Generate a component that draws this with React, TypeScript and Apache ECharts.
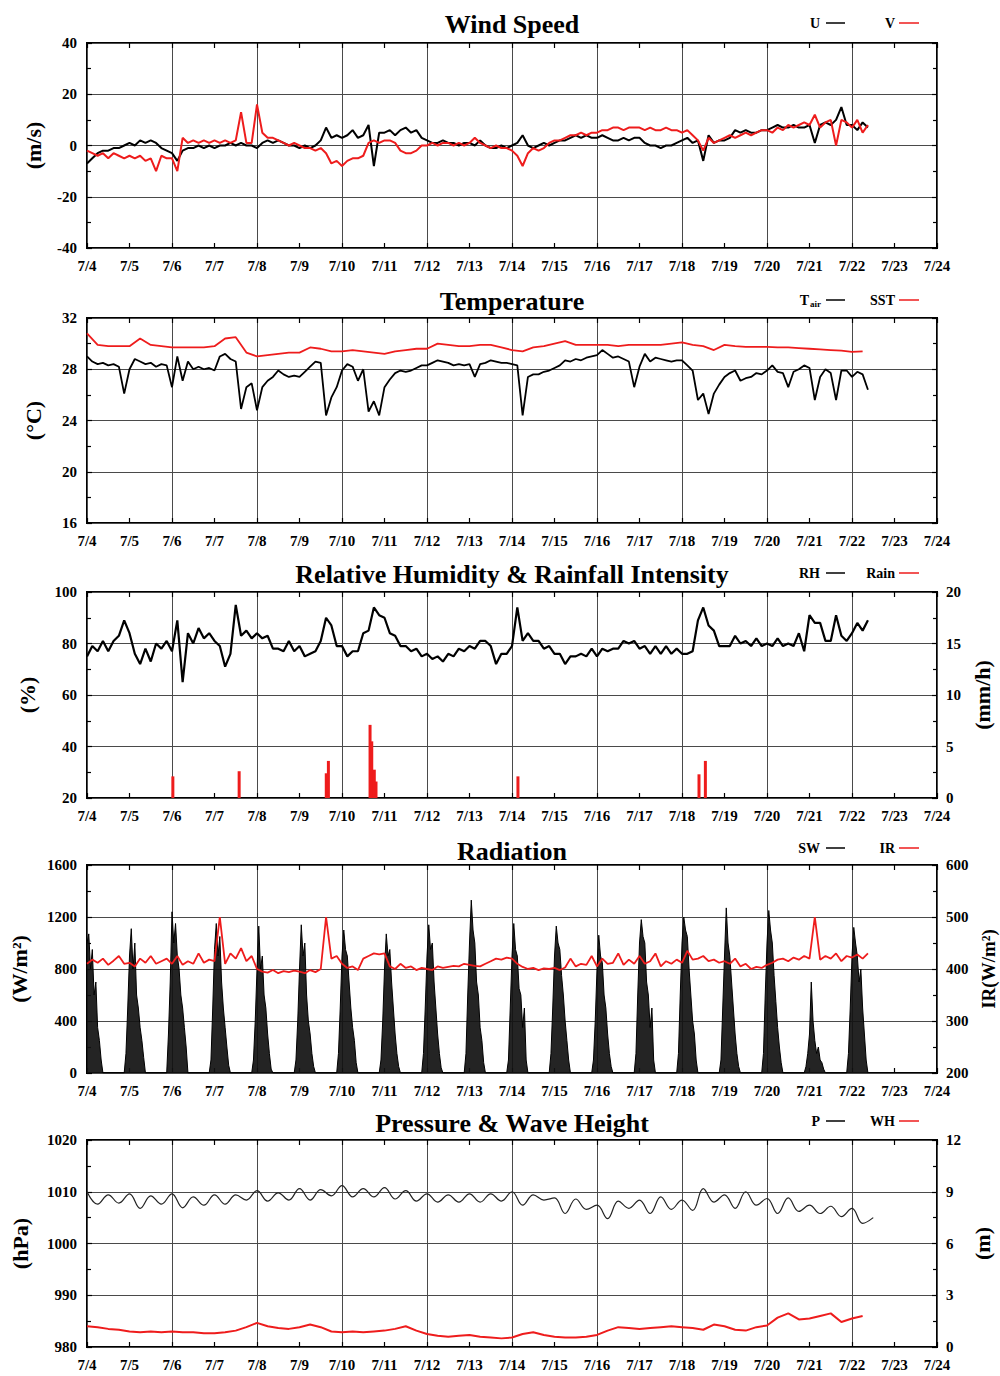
import React, { useEffect, useRef } from "react";
import * as echarts from "echarts";

// ---------- tick labels ----------
const X_TICK_LABELS = ["7/4","7/5","7/6","7/7","7/8","7/9","7/10","7/11","7/12","7/13","7/14","7/15","7/16","7/17","7/18","7/19","7/20","7/21","7/22","7/23","7/24"];

// ---------- data (3-hourly from 7/4 00:00) ----------
const U_WIND = [
  -7, -5, -3, -2, -2, -1, -1, 0,
  1, 0, 2, 1, 2, 1, -1, -2,
  -3, -6, -2, -1, -1, 0, -1, 0,
  -1, 0, 0, 1, 0, 1, 0, 0,
  -1, 1, 2, 1, 2, 1, 0, 0,
  -1, 0, -1, 0, 2, 7, 3, 4,
  3, 4, 6, 3, 4, 8, -8, 5,
  5, 6, 4, 6, 7, 5, 6, 3,
  2, 1, 1, 2, 1, 1, 0, 1,
  1, 0, 2, 0, -1, -1, 0, -1,
  0, 1, 4, 0, -1, 0, 1, 0,
  1, 2, 2, 3, 4, 3, 4, 3,
  3, 4, 3, 2, 2, 3, 2, 3,
  3, 1, 0, 0, -1, 0, 0, 1,
  2, 3, 1, 2, -6, 4, 1, 2,
  2, 3, 6, 5, 6, 5, 5, 6,
  6, 7, 8, 7, 7, 8, 7, 7,
  8, 1, 8, 9, 8, 10, 15, 8,
  8, 6, 9, 7,
];
const V_WIND = [
  -2, -3, -4, -3, -5, -3, -4, -5,
  -4, -5, -4, -6, -5, -10, -4, -5,
  -5, -10, 3, 1, 2, 1, 2, 1,
  2, 1, 2, 1, 2, 13, 1, 1,
  16, 5, 3, 3, 2, 1, 0, 1,
  0, -1, -1, -2, -1, -3, -7, -6,
  -8, -6, -5, -5, -4, 1, 2, 1,
  2, 2, 1, -2, -3, -3, -2, 0,
  0, 1, 0, 1, 1, 0, 1, 0,
  1, 3, 1, 0, -1, 0, -1, -1,
  -2, -4, -8, -3, -1, -2, -1, 1,
  2, 2, 3, 4, 4, 5, 4, 5,
  5, 6, 6, 7, 7, 6, 7, 7,
  7, 6, 7, 6, 6, 7, 6, 6,
  5, 6, 4, 2, -2, 3, 1, 2,
  3, 4, 3, 4, 5, 4, 5, 6,
  6, 5, 7, 6, 8, 7, 8, 9,
  8, 12, 7, 9, 10, 0, 10, 9,
  7, 10, 5, 8,
];
const T_AIR = [
  29.0, 28.6, 28.4, 28.5, 28.3, 28.4, 28.2, 26.1,
  28.0, 28.8, 28.6, 28.4, 28.5, 28.2, 28.4, 28.3,
  26.6, 29.0, 27.1, 28.6, 28.0, 28.2, 28.0, 28.1,
  27.9, 29.0, 29.2, 28.8, 28.6, 24.9, 26.6, 26.9,
  24.8, 26.6, 27.1, 27.4, 27.9, 27.6, 27.4, 27.5,
  27.4, 27.8, 28.2, 28.6, 28.5, 24.4, 25.8, 26.6,
  27.9, 28.4, 28.2, 27.1, 28.0, 24.7, 25.5, 24.4,
  26.6, 27.2, 27.7, 27.9, 27.8, 27.9, 28.1, 28.3,
  28.3, 28.5, 28.7, 28.6, 28.5, 28.3, 28.4, 28.3,
  28.4, 27.4, 28.4, 28.5, 28.7, 28.6, 28.5, 28.5,
  28.4, 28.3, 24.4, 27.4, 27.6, 27.6, 27.8, 27.9,
  28.1, 28.3, 28.7, 28.6, 28.8, 28.7, 28.9, 29.0,
  29.1, 29.5, 29.2, 28.9, 29.0, 28.8, 28.6, 26.6,
  28.2, 29.2, 28.6, 28.9, 28.8, 28.7, 28.6, 28.7,
  28.7, 28.3, 27.9, 25.6, 26.1, 24.5, 26.1, 26.8,
  27.4, 27.7, 27.9, 27.1, 27.3, 27.4, 27.7, 27.6,
  27.9, 28.3, 27.8, 27.7, 26.6, 27.8, 28.0, 28.3,
  28.1, 25.6, 27.4, 28.0, 27.7, 25.6, 27.9, 27.9,
  27.4, 27.8, 27.6, 26.4,
];
const RH = [
  75, 79, 77, 81, 77, 81, 83, 89,
  84, 76, 72, 78, 73, 80, 78, 81,
  77, 89, 65, 84, 80, 86, 82, 84,
  81, 79, 71, 76, 95, 83, 85, 82,
  84, 82, 83, 78, 78, 77, 81, 77,
  79, 75, 76, 77, 81, 90, 87, 79,
  79, 75, 77, 77, 84, 85, 94, 91,
  90, 84, 83, 79, 79, 77, 78, 75,
  76, 74, 75, 73, 76, 75, 78, 77,
  79, 78, 81, 81, 79, 72, 76, 76,
  79, 94, 81, 84, 81, 81, 78, 79,
  76, 76, 72, 75, 75, 76, 75, 78,
  75, 78, 77, 78, 78, 81, 80, 81,
  78, 79, 76, 79, 76, 79, 76, 78,
  76, 76, 77, 89, 94, 87, 85, 79,
  79, 79, 83, 80, 81, 79, 82, 79,
  80, 79, 82, 79, 80, 79, 84, 77,
  91, 88, 88, 81, 81, 91, 83, 81,
  84, 88, 85, 89,
];
const IR = [
  410, 418, 412, 420, 408, 416, 425, 410,
  412, 405, 420, 412, 425, 410, 415, 420,
  410, 425, 408, 415, 410, 430, 412, 418,
  415, 500, 410, 430, 420, 440, 415, 425,
  400, 395, 393, 398, 392, 396, 394, 397,
  395, 392, 398, 394, 400, 500, 420, 425,
  410, 402, 405, 398, 420, 425, 430, 428,
  430, 405, 400, 410, 402, 405, 398, 402,
  400, 398, 405, 402, 404, 406, 405, 410,
  408, 406, 405, 410, 415, 420, 418, 422,
  420, 410, 404, 400, 402, 398, 401, 400,
  402, 398, 403, 420, 405, 410, 408, 425,
  405, 420, 410, 412, 430, 408, 418, 410,
  425, 410, 415, 430, 405, 415, 410, 418,
  412, 435, 418, 420, 425, 415, 418, 412,
  415, 410, 420, 405, 410, 400, 404, 402,
  408, 412, 418, 420, 415, 422, 418, 425,
  420, 500, 418, 425, 420, 430, 415, 425,
  422, 428, 420, 430,
];

// ---------- data (6-hourly from 7/4 00:00) ----------
const SST = [
  30.8, 29.9, 29.8, 29.8,
  29.8, 30.4, 29.9, 29.8,
  29.7, 29.7, 29.7, 29.7,
  29.8, 30.4, 30.5, 29.3,
  29.0, 29.1, 29.2, 29.3,
  29.3, 29.7, 29.6, 29.4,
  29.4, 29.5, 29.4, 29.3,
  29.2, 29.4, 29.5, 29.6,
  29.6, 30.0, 29.9, 29.8,
  29.8, 29.9, 29.9, 29.7,
  29.5, 29.4, 29.7, 29.8,
  30.0, 30.2, 29.9, 29.9,
  29.9, 29.9, 29.8, 29.9,
  29.9, 29.9, 29.9, 30.0,
  30.1, 29.9, 29.8, 29.5,
  29.9, 29.8, 29.75, 29.75,
  29.75, 29.7, 29.7, 29.65,
  29.6, 29.55, 29.5, 29.45,
  29.35, 29.4,
];
const PRESSURE = [
  1010.0, 1007.6, 1009.4, 1007.8,
  1009.6, 1006.8, 1009.2, 1007.6,
  1009.6, 1006.9, 1009.0, 1007.4,
  1009.4, 1007.6, 1009.4, 1008.4,
  1010.2, 1008.2, 1009.8, 1008.4,
  1010.6, 1008.4, 1010.4, 1009.2,
  1011.2, 1009.0, 1010.6, 1009.0,
  1010.8, 1008.6, 1010.2, 1008.2,
  1009.6, 1008.0, 1009.4, 1008.0,
  1009.6, 1008.0, 1009.6, 1008.2,
  1010.0, 1007.4, 1009.4, 1008.4,
  1008.8, 1005.8, 1008.6, 1006.6,
  1007.4, 1004.8, 1008.2, 1006.8,
  1008.4, 1005.8, 1009.0, 1006.6,
  1008.4, 1006.4, 1010.6, 1008.0,
  1009.4, 1006.8, 1010.0, 1007.4,
  1008.7, 1005.8, 1008.8, 1006.2,
  1007.4, 1005.8, 1007.2, 1005.2,
  1006.8, 1003.9, 1005.0,
];
const WAVE_HEIGHT = [
  1.2, 1.15, 1.05, 1.0,
  0.9, 0.85, 0.9, 0.85,
  0.9, 0.85, 0.85, 0.8,
  0.8, 0.85, 0.95, 1.15,
  1.4, 1.2, 1.1, 1.05,
  1.15, 1.3, 1.15, 0.9,
  0.85, 0.9, 0.85, 0.9,
  0.95, 1.05, 1.2, 0.95,
  0.75, 0.65, 0.6, 0.65,
  0.7, 0.6, 0.55, 0.5,
  0.55, 0.75, 0.85, 0.7,
  0.6, 0.55, 0.55, 0.6,
  0.7, 0.95, 1.15, 1.1,
  1.05, 1.1, 1.15, 1.2,
  1.15, 1.1, 1.0, 1.3,
  1.2, 1.0, 0.95, 1.15,
  1.25, 1.7, 1.95, 1.6,
  1.65, 1.8, 1.95, 1.45,
  1.65, 1.8,
];

// ---------- rain events: time (days since 7/4 00:00) and intensity (mm/h) ----------
const RAIN_TIME = [2.02, 3.58, 5.63, 5.68, 6.66, 6.7, 6.76, 6.8, 10.14, 14.4, 14.55];
const RAIN_VALUE = [2.1, 2.6, 2.4, 3.6, 7.1, 5.5, 2.75, 1.6, 2.1, 2.3, 3.6];

// ---------- shortwave: hourly values, hours -3..+10 around 00 UTC of each day ----------
const SW_FIRST_HOUR = -3;
const SW_DAYS = [
  [null, null, null, 1000, 1070, 800, 950, 600, 700, 350, 250, 100, 0, 0],
  [0, 150, 500, 900, 1110, 800, 1000, 600, 500, 350, 250, 120, 0, 0],
  [0, 300, 700, 1240, 1000, 1150, 900, 800, 600, 500, 350, 200, 0, 0],
  [0, 100, 500, 950, 1150, 900, 1050, 700, 500, 350, 200, 60, 0, 0],
  [0, 100, 400, 800, 1130, 800, 900, 600, 500, 300, 150, 30, 0, 0],
  [0, 100, 400, 800, 1140, 900, 1000, 600, 400, 300, 150, 50, 0, 0],
  [0, 150, 500, 900, 1100, 950, 900, 700, 500, 350, 250, 80, 0, 0],
  [0, 100, 400, 800, 1070, 900, 950, 700, 500, 300, 150, 50, 0, 0],
  [0, 150, 500, 900, 1140, 950, 1000, 700, 500, 300, 150, 40, 0, 0],
  [0, 150, 600, 1000, 1330, 1100, 1000, 700, 600, 350, 250, 80, 0, 0],
  [0, 100, 500, 900, 1150, 950, 900, 650, 600, 350, 500, 100, 0, 0],
  [0, 150, 500, 900, 1130, 1000, 950, 750, 600, 400, 250, 100, 0, 0],
  [0, 100, 400, 800, 1060, 900, 850, 600, 500, 300, 150, 50, 0, 0],
  [0, 150, 600, 1000, 1180, 1050, 1000, 700, 600, 350, 500, 100, 0, 0],
  [0, 150, 600, 1000, 1200, 1100, 1050, 800, 600, 400, 300, 100, 0, 0],
  [0, 100, 500, 900, 1270, 1000, 900, 700, 500, 300, 150, 50, 0, 0],
  [0, 150, 600, 1000, 1250, 1100, 1000, 750, 550, 350, 200, 80, 0, 0],
  [0, 50, 150, 300, 700, 400, 250, 150, 200, 100, 80, 30, 0, 0],
  [0, 150, 500, 900, 1120, 1000, 900, 700, 800, 500, 300, 100, 0],
];

// ---------- helpers ----------
const STEP_3H = 0.125;
const STEP_6H = 0.25;
const toPoints = (vals: number[], step: number) => vals.map((v, i) => [i * step, v]);
const swPoints = () => {
  const pts: number[][] = [];
  SW_DAYS.forEach((arr, d) => {
    arr.forEach((v, k) => {
      if (v !== null) pts.push([d + (k + SW_FIRST_HOUR) / 24, v as number]);
    });
  });
  return pts;
};

const FONT = '"Liberation Serif", "Times New Roman", serif';
const RED = "#ee1c1c";
const BLACK = "#000000";
const GRID_LEFT = 87;
const GRID_RIGHT = 63;
const GRID_TOPS = [43, 318, 592, 865, 1140];
const GRID_HEIGHTS = [205, 205, 206, 208, 207];

type Range = { min: number; max: number; interval: number };
const PANELS: {
  title: string;
  titleY: number;
  left: Range;
  leftName: string;
  leftGap: number;
  right: Range | null;
  rightName: string;
  rightGap: number;
  rightNameSize: number;
  legend: [string, string];
  legendY: number;
}[] = [
  { title: "Wind Speed", titleY: 24, left: { min: -40, max: 40, interval: 20 }, leftName: "(m/s)", leftGap: 43, right: null, rightName: "", rightGap: 0, rightNameSize: 22, legend: ["U", "V"], legendY: 23 },
  { title: "Temperature", titleY: 301, left: { min: 16, max: 32, interval: 4 }, leftName: "(°C)", leftGap: 43, right: null, rightName: "", rightGap: 0, rightNameSize: 22, legend: ["Tair", "SST"], legendY: 300 },
  { title: "Relative Humidity & Rainfall Intensity", titleY: 574, left: { min: 20, max: 100, interval: 20 }, leftName: "(%)", leftGap: 49, right: { min: 0, max: 20, interval: 5 }, rightName: "(mm/h)", rightGap: 34, rightNameSize: 22, legend: ["RH", "Rain"], legendY: 573 },
  { title: "Radiation", titleY: 851, left: { min: 0, max: 1600, interval: 400 }, leftName: "(W/m²)", leftGap: 57, right: { min: 200, max: 600, interval: 100 }, rightName: "IR(W/m²)", rightGap: 31, rightNameSize: 19, legend: ["SW", "IR"], legendY: 848 },
  { title: "Pressure & Wave Height", titleY: 1123, left: { min: 980, max: 1020, interval: 10 }, leftName: "(hPa)", leftGap: 56, right: { min: 0, max: 12, interval: 3 }, rightName: "(m)", rightGap: 34, rightNameSize: 22, legend: ["P", "WH"], legendY: 1121 },
];

const labelStyle = { color: BLACK, fontFamily: FONT, fontWeight: "bold" as const, fontSize: 15 };
const nameStyle = { color: BLACK, fontFamily: FONT, fontWeight: "bold" as const, fontSize: 22 };
const tickStyle = { color: BLACK, width: 1.2 };

function buildOption() {
  const grid = PANELS.map((_, g) => ({
    left: GRID_LEFT,
    right: GRID_RIGHT,
    top: GRID_TOPS[g],
    height: GRID_HEIGHTS[g],
    containLabel: false,
    outerBoundsMode: "none",
    show: true,
    borderColor: BLACK,
    borderWidth: 2,
    backgroundColor: "transparent",
  }));

  const xAxis: any[] = [];
  const yAxis: any[] = [];
  PANELS.forEach((p, g) => {
    xAxis.push({
      gridIndex: g, type: "value", min: 0, max: 20, interval: 1, position: "bottom",
      axisLine: { show: false, onZero: false },
      axisTick: { show: true, inside: true, length: 5, lineStyle: tickStyle },
      axisLabel: { ...labelStyle, margin: 10, formatter: (v: number) => X_TICK_LABELS[Math.round(v)] ?? "" },
      splitLine: { show: false },
    });
    xAxis.push({
      gridIndex: g, type: "value", min: 0, max: 20, interval: 1, position: "top",
      axisLine: { show: false, onZero: false },
      axisTick: { show: true, inside: true, length: 5, lineStyle: tickStyle },
      axisLabel: { show: false },
      splitLine: { show: false },
    });
    xAxis.push({
      gridIndex: g, type: "value", min: 0, max: 20, interval: 2, position: "bottom",
      axisLine: { show: false, onZero: false }, axisTick: { show: false }, axisLabel: { show: false },
      splitLine: { show: true, lineStyle: { color: "#4a4a4a", width: 1 } },
    });
    yAxis.push({
      gridIndex: g, type: "value", position: "left", ...p.left,
      name: p.leftName, nameLocation: "middle", nameGap: p.leftGap, nameRotate: 90,
      nameTextStyle: nameStyle,
      axisLine: { show: false, onZero: false },
      axisTick: { show: true, inside: true, length: 5, lineStyle: tickStyle },
      minorTick: { show: true, splitNumber: 2, length: 4, lineStyle: tickStyle },
      axisLabel: { ...labelStyle, margin: 10, formatter: (v: number) => String(v) },
      splitLine: { show: true, lineStyle: { color: "#4a4a4a", width: 1 } },
    });
    const r = p.right ?? p.left;
    yAxis.push({
      gridIndex: g, type: "value", position: "right", ...r,
      name: p.right ? p.rightName : "", nameLocation: "middle", nameGap: p.rightGap, nameRotate: 90,
      nameTextStyle: { ...nameStyle, fontSize: p.rightNameSize },
      axisLine: { show: false, onZero: false },
      axisTick: { show: true, inside: true, length: 5, lineStyle: tickStyle },
      minorTick: { show: true, splitNumber: 2, length: 4, lineStyle: tickStyle },
      axisLabel: { ...labelStyle, margin: 9, show: !!p.right, formatter: (v: number) => String(v) },
      splitLine: { show: false },
    });
  });

  const line = (name: string, g: number, yRight: boolean, data: number[][], color: string, width: number, z: number) => ({
    name, type: "line", xAxisIndex: g * 3, yAxisIndex: g * 2 + (yRight ? 1 : 0),
    data, showSymbol: false, symbol: "none", clip: true, z,
    lineStyle: { color, width }, itemStyle: { color },
  });

  const sw: any = line("SW", 3, false, swPoints(), BLACK, 1, 3);
  sw.areaStyle = { color: "#111111", opacity: 0.92, origin: "start" };
  const pLine: any = line("P", 4, false, toPoints(PRESSURE, STEP_6H), "#222222", 1.2, 3);
  pLine.smooth = 0.4;

  const series: any[] = [
    line("U", 0, false, toPoints(U_WIND, STEP_3H), BLACK, 2, 3),
    line("V", 0, false, toPoints(V_WIND, STEP_3H), RED, 2, 4),
    line("Tair", 1, false, toPoints(T_AIR, STEP_3H), BLACK, 1.8, 3),
    line("SST", 1, false, toPoints(SST, STEP_6H), RED, 1.8, 4),
    line("RH", 2, false, toPoints(RH, STEP_3H), BLACK, 2.2, 3),
    {
      name: "Rain", type: "bar", xAxisIndex: 6, yAxisIndex: 5,
      data: RAIN_TIME.map((t, i) => [t, RAIN_VALUE[i]]),
      barWidth: 3, itemStyle: { color: RED }, z: 4,
    },
    sw,
    line("IR", 3, true, toPoints(IR, STEP_3H), RED, 1.8, 4),
    pLine,
    line("WH", 4, true, toPoints(WAVE_HEIGHT, STEP_6H), RED, 2, 4),
  ];

  const graphic: any[] = [];
  const txt = (text: string, x: number, y: number, font: string, align: string) => ({
    type: "text", x, y,
    style: { text, font, fill: BLACK, textAlign: align, textVerticalAlign: "middle", align, verticalAlign: "middle" },
  });
  PANELS.forEach((p) => {
    graphic.push(txt(p.title, 512, p.titleY, `bold 26px ${FONT}`, "center"));
    const items = [
      { label: p.legend[0], color: BLACK, tx: 820, x1: 826, x2: 845 },
      { label: p.legend[1], color: RED, tx: 895, x1: 899, x2: 919 },
    ];
    items.forEach((it) => {
      if (it.label === "Tair") {
        graphic.push(txt("T", 809, p.legendY, `bold 14px ${FONT}`, "right"));
        graphic.push(txt("air", 810, p.legendY + 4, `bold 9px ${FONT}`, "left"));
      } else {
        graphic.push(txt(it.label, it.tx, p.legendY, `bold 14px ${FONT}`, "right"));
      }
      graphic.push({ type: "line", shape: { x1: it.x1, y1: p.legendY, x2: it.x2, y2: p.legendY }, style: { stroke: it.color, lineWidth: 1.5 } });
    });
  });

  return { animation: false, backgroundColor: "#ffffff", grid, xAxis, yAxis, series, graphic };
}

export default function App() {
  const ref = useRef<HTMLDivElement>(null);
  useEffect(() => {
    if (!ref.current) return;
    const chart = echarts.init(ref.current, null, { renderer: "svg" });
    chart.setOption(buildOption() as any);
    return () => chart.dispose();
  }, []);
  return (
    <div
      ref={ref}
      style={{ position: "fixed", left: 0, top: 0, width: 1000, height: 1376, background: "#fff" }}
    />
  );
}
